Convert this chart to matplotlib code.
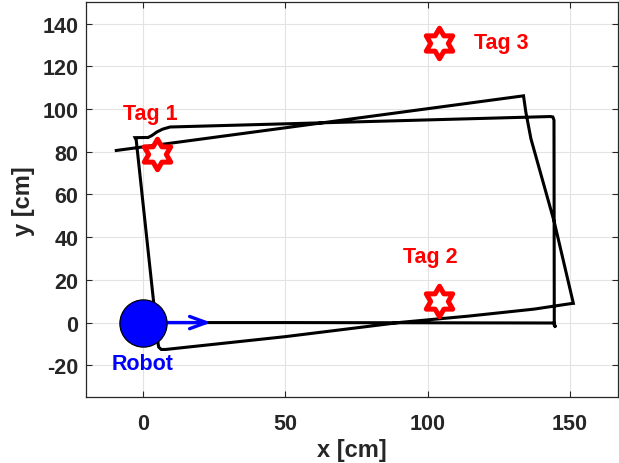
import numpy as np
import matplotlib
matplotlib.use("Agg")
import matplotlib.pyplot as plt
from matplotlib.path import Path
from matplotlib.markers import MarkerStyle
from matplotlib.patches import FancyArrowPatch

plt.rcParams['font.family'] = ['Liberation Sans', 'DejaVu Sans']
plt.rcParams['font.weight'] = 'bold'
plt.rcParams['axes.unicode_minus'] = False

# Odometry trajectory of the robot [cm]
traj_x = [0.0, 50.0, 100.0, 144.4, 145.0, 144.5, 144.4, 144.0, 143.2,
          9.6, 7.0, 5.0, 3.2, 1.9, -2.7, -2.3, 5.4, 5.6, 6.5, 8.0,
          50.0, 90.6, 114.2, 137.4, 150.4, 151.2, 144.5, 136.3,
          134.5, 133.7, -9.3]
traj_y = [0.0, 0.0, -0.1, -0.2, -2.3, -1.2, 94.8, 96.3, 96.5,
          91.6, 90.6, 89.3, 87.6, 86.7, 86.6, 85.5, -10.0, -11.5, -12.6, -12.6,
          -6.6, 0.1, 3.0, 6.3, 8.9, 9.0, 47.1, 86.1,
          98.7, 106.2, 80.6]

# Landmark tags [cm]
tag_names = ["Tag 1", "Tag 2", "Tag 3"]
tag_x = [5.0, 104.0, 104.0]
tag_y = [79.0, 10.0, 131.0]

# Robot start pose and heading arrow length [cm]
robot_x = 0.0
robot_y = 0.0
heading_len = 24.0

x_ticks = [0, 50, 100, 150]
y_ticks = [-20, 0, 20, 40, 60, 80, 100, 120, 140]

W, H = 619, 464
fig = plt.figure(figsize=(W / 100, H / 100), dpi=100)
left, right, top, bottom = 85.8, 617.5, 3.3, 398.3
ax = fig.add_axes([left / W, (H - bottom) / H, (right - left) / W, (bottom - top) / H])

axis_col = '#262626'
ax.set_xlim(-20, 166.7)
ax.set_ylim(-35, 150)
ax.set_xticks(x_ticks)
ax.set_yticks(y_ticks)
ax.grid(True, color='#e3e3e3', linewidth=0.8)
ax.set_axisbelow(True)
for s in ax.spines.values():
    s.set_color(axis_col)
    s.set_linewidth(0.9)
ax.tick_params(direction='in', length=4.3, width=0.8, color=axis_col,
               labelcolor=axis_col, labelsize=15.5, top=True, right=True)
ax.tick_params(axis='x', pad=11)
ax.tick_params(axis='y', pad=5.5)
for lab in ax.get_xticklabels() + ax.get_yticklabels():
    lab.set_fontweight('bold')

ax.set_xlabel('x [cm]', fontsize=17, fontweight='bold', color=axis_col)
ax.set_ylabel('y [cm]', fontsize=17, fontweight='bold', color=axis_col)
ax.xaxis.set_label_coords(0.5, -0.103)
ax.yaxis.set_label_coords(-0.0955, 0.5)

# Trajectory
ax.plot(traj_x, traj_y, color='black', linewidth=2.2, zorder=2,
        solid_joinstyle='miter')

# Heading arrow
arrow = FancyArrowPatch((robot_x, robot_y), (robot_x + heading_len, robot_y),
                        arrowstyle='->,head_length=0.6,head_width=0.22',
                        mutation_scale=20, color='blue', linewidth=2.4,
                        shrinkA=0, shrinkB=0, zorder=3)
ax.add_patch(arrow)

# Robot body
ax.plot([robot_x], [robot_y], marker='o', markersize=34, markerfacecolor='blue',
        markeredgecolor='black', markeredgewidth=0.9, linestyle='none', zorder=4)
ax.text(robot_x, robot_y - 19, 'Robot', color='blue', fontsize=15.5,
        fontweight='bold', ha='center', va='center', zorder=5)

# Hexagram marker for the tags
ang_out = np.deg2rad(90 + 60 * np.arange(6))
ang_in = ang_out + np.deg2rad(30)
r_in = 1 / np.sqrt(3)
verts = []
for a_o, a_i in zip(ang_out, ang_in):
    verts.append((np.cos(a_o), np.sin(a_o)))
    verts.append((r_in * np.cos(a_i), r_in * np.sin(a_i)))
verts.append(verts[0])
codes = [Path.MOVETO] + [Path.LINETO] * 11 + [Path.CLOSEPOLY]
hexagram = MarkerStyle(Path(verts, codes), joinstyle='miter')

ax.plot(tag_x, tag_y, marker=hexagram, markersize=22, markerfacecolor='white',
        markeredgecolor='red', markeredgewidth=3.6, linestyle='none', zorder=4)

label_offsets = [(-2.4, 19, 'center'), (-3.2, 21, 'center'), (12.4, 0, 'left')]
for name, tx, ty, (dx, dy, ha) in zip(tag_names, tag_x, tag_y, label_offsets):
    ax.text(tx + dx, ty + dy, name, color='red', fontsize=15.5, fontweight='bold',
            ha=ha, va='center', zorder=5)

fig.savefig('out.png', dpi=100)
